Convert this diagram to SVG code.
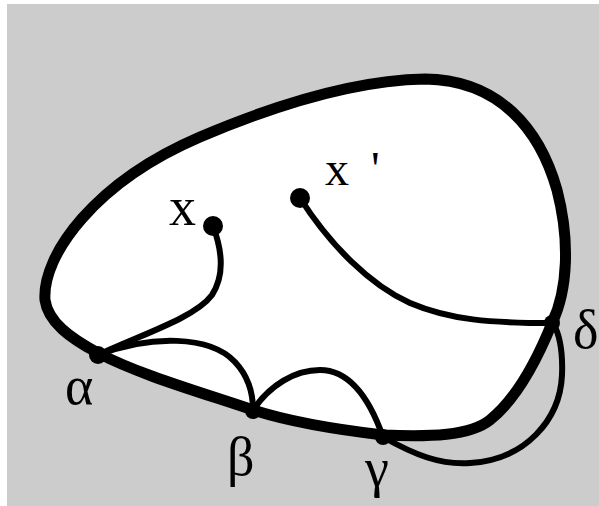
<svg xmlns="http://www.w3.org/2000/svg" width="599" height="506" viewBox="0 0 599 506">
<style>
.bg{fill:#cccccc}
.blob{fill:#ffffff;stroke:#000000;stroke-width:11;stroke-linejoin:round}
.edge{fill:none;stroke:#000000;stroke-width:6;stroke-linecap:round}
.dot{fill:#000000}
.lbl{font-family:"Liberation Serif","Times New Roman",serif;font-size:54px;fill:#000000}
</style>
<rect class="bg" x="7" y="4" width="592" height="502"/>
<g id="region">
<path class="blob" d="M 98,353 C 70,338 48,322 45,300 C 42,255 95,182 200,137 C 280,103 360,80 425,79 C 500,80 540,130 557,190 C 570,240 568,290 552,323 C 535,365 515,400 490,420 C 470,436 430,437 383,435 C 340,430 290,422 253,410 C 200,392 140,375 98,353 Z"/>
</g>
<g id="connectors">
<path class="edge" d="M 213,226 C 222,250 225,275 212,295 C 195,318 140,335 98,355"/>
<path class="edge" d="M 300,198 C 330,245 370,285 410,303 C 450,320 490,323 552,323"/>
<path class="edge" d="M 98,355 C 150,335 210,335 235,362 C 250,378 253,395 253,410"/>
<path class="edge" d="M 253,410 C 270,385 295,370 320,370 C 350,370 370,400 383,437"/>
<path class="edge" d="M 383,437 C 415,455 440,465 470,463 C 525,460 560,420 562,375 C 563,350 560,335 553,323"/>
</g>
<g id="node-x"><circle class="dot" cx="213" cy="226" r="10"/><text class="lbl" x="169" y="225">x</text></g>
<g id="node-x-prime"><circle class="dot" cx="300" cy="198" r="10"/><text class="lbl" x="325" y="185" style="font-size:48px">x<tspan dx="22">'</tspan></text></g>
<g id="node-alpha"><circle class="dot" cx="98" cy="355" r="9"/><text class="lbl" x="65" y="404">α</text></g>
<g id="node-beta"><circle class="dot" cx="253" cy="411" r="8"/><text class="lbl" x="227" y="475">β</text></g>
<g id="node-gamma"><circle class="dot" cx="383" cy="437" r="8"/><text class="lbl" x="365" y="486">γ</text></g>
<g id="node-delta"><circle class="dot" cx="552" cy="323" r="8"/><text class="lbl" x="573" y="348">δ</text></g>
</svg>
